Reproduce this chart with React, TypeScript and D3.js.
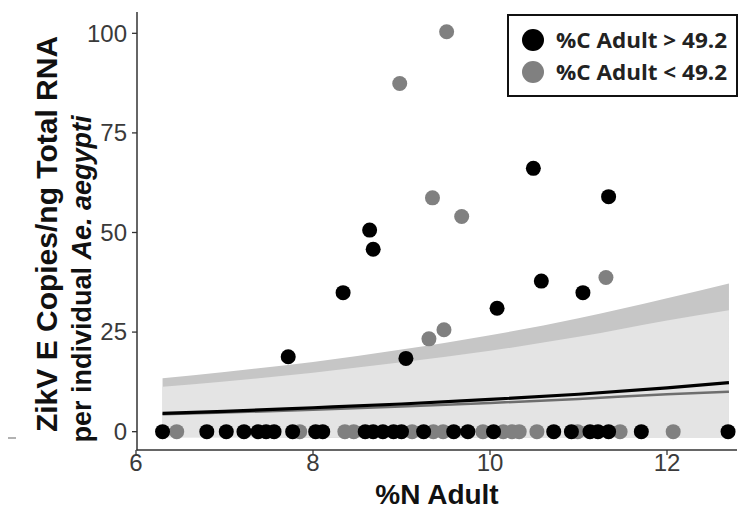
import React from 'react';
import * as d3 from 'd3';

// zero-valued samples along the bottom row
const blackZeroX = [6.3, 6.8, 7.02, 7.22, 7.38, 7.47, 7.56, 7.77, 8.03, 8.11, 8.59, 8.68, 8.79, 8.91, 9.0, 9.25, 9.59, 9.75, 10.04, 10.72, 10.92, 11.13, 11.22, 11.34, 11.71, 12.69];
const grayZeroX = [6.46, 7.85, 8.36, 8.46, 9.12, 9.36, 9.47, 9.92, 10.15, 10.25, 10.33, 10.53, 10.99, 11.47, 12.07];

// positive samples
const blackX = [7.72, 8.34, 8.64, 8.68, 9.05, 10.08, 10.49, 10.58, 11.05, 11.34];
const blackY = [18.8, 34.9, 50.6, 45.8, 18.4, 31.0, 66.1, 37.8, 34.9, 59.0];
const grayX = [8.98, 9.51, 9.35, 9.68, 9.31, 9.48, 11.31];
const grayY = [87.4, 100.4, 58.7, 54.0, 23.3, 25.6, 38.7];

// fitted curves + confidence bands
const fitX = [6.3, 7, 8, 9, 10, 11, 12, 12.7];
const blackFit = [4.6, 5.1, 6.0, 6.95, 8.1, 9.4, 11.0, 12.3];
const blackUpper = [13.4, 15.0, 17.5, 20.6, 24.2, 28.5, 33.5, 37.2];
const blackLower = [-1.4, -1.4, -1.5, -1.5, -1.5, -1.6, -1.6, -1.6];
const grayFit = [4.4, 4.8, 5.5, 6.3, 7.2, 8.2, 9.4, 10.0];
const grayUpper = [11.3, 12.6, 14.8, 17.4, 20.3, 23.8, 27.9, 30.5];
const grayLower = [-1.4, -1.4, -1.5, -1.5, -1.5, -1.6, -1.6, -1.6];

const xTicks = [6, 8, 10, 12];
const yTicks = [0, 25, 50, 75, 100];
const legendLabels = ['%C Adult > 49.2', '%C Adult < 49.2'];

const BLACK = '#000000';
const GRAY = '#808080';
const FONT = '"Liberation Sans", Arial, sans-serif';

export default function App() {
    const x = d3.scaleLinear().domain([6, 12.8]).range([136, 737.8]);
    const y = d3.scaleLinear().domain([-4.6, 105]).range([450, 13.4]);

    const band = (upper: number[], lower: number[]) =>
        d3.area<number>()
            .x((d) => x(d))
            .y0((_, i) => y(lower[i]))
            .y1((_, i) => y(upper[i]))
            .curve(d3.curveMonotoneX)(fitX);

    const fit = (vals: number[]) =>
        d3.line<number>()
            .x((d) => x(d))
            .y((_, i) => y(vals[i]))
            .curve(d3.curveMonotoneX)(fitX);

    const grayPts = [
        ...grayZeroX.map((v) => [v, 0]),
        ...grayX.map((v, i) => [v, grayY[i]]),
    ];
    const blackPts = [
        ...blackZeroX.map((v) => [v, 0]),
        ...blackX.map((v, i) => [v, blackY[i]]),
    ];

    return (
        <div style={{ position: 'absolute', left: 0, top: 0 }}>
            <svg width={745} height={512} style={{ display: 'block', background: '#fff' }}>
                {/* bands */}
                <path d={band(blackUpper, blackLower) || ''} fill="#c6c6c6" />
                <path d={band(grayUpper, grayLower) || ''} fill="#e4e4e4" />

                {/* fits */}
                <path d={fit(grayFit) || ''} fill="none" stroke="#6e6e6e" strokeWidth={2.5} />
                <path d={fit(blackFit) || ''} fill="none" stroke={BLACK} strokeWidth={3.2} />

                {/* points */}
                {grayPts.map((p, i) => (
                    <circle key={`g${i}`} cx={x(p[0])} cy={y(p[1])} r={7.5} fill={GRAY} />
                ))}
                {blackPts.map((p, i) => (
                    <circle key={`b${i}`} cx={x(p[0])} cy={y(p[1])} r={7.5} fill={BLACK} />
                ))}

                {/* axes */}
                <line x1={137} x2={137} y1={12} y2={450.5} stroke="#333" strokeWidth={1.5} />
                <line x1={136.5} x2={737} y1={450} y2={450} stroke="#333" strokeWidth={1.5} />
                {yTicks.map((t) => (
                    <g key={`yt${t}`}>
                        <line x1={132} x2={137} y1={y(t)} y2={y(t)} stroke="#333" strokeWidth={1.3} />
                        <text x={127} y={y(t)} dy="0.35em" textAnchor="end" fontFamily={FONT} fontSize={24} fill="#3a3a3a">
                            {t}
                        </text>
                    </g>
                ))}
                {xTicks.map((t) => (
                    <g key={`xt${t}`}>
                        <line x1={x(t)} x2={x(t)} y1={450} y2={455} stroke="#333" strokeWidth={1.3} />
                        <text x={x(t)} y={471} textAnchor="middle" fontFamily={FONT} fontSize={24} fill="#3a3a3a">
                            {t}
                        </text>
                    </g>
                ))}

                {/* axis titles */}
                <text x={437} y={504} textAnchor="middle" fontFamily={FONT} fontSize={28} fontWeight="bold" fill="#111">
                    %N Adult
                </text>
                <text transform="translate(57,234) rotate(-90)" textAnchor="middle" fontFamily={FONT} fontSize={30} fontWeight="bold" fill="#111">
                    ZikV E Copies/ng Total RNA
                </text>
                <text transform="translate(91,279) rotate(-90)" textAnchor="middle" fontFamily={FONT} fontSize={27} fontWeight="bold" fill="#111">
                    per individual <tspan fontStyle="italic">Ae. aegypti</tspan>
                </text>
                <line x1={8} x2={16} y1={438} y2={438} stroke="#999" strokeWidth={1.5} />

                {/* legend */}
                <rect x={508} y={15} width={229} height={81} fill="#fff" stroke="#111" strokeWidth={2} />
                {legendLabels.map((lab, i) => (
                    <g key={lab}>
                        <circle cx={533} cy={40 + i * 32} r={11} fill={i === 0 ? BLACK : GRAY} />
                        <text x={556} y={40 + i * 32} dy="0.36em" fontFamily='"Open Sans", sans-serif' fontSize={21} fontWeight="bold" fill="#222" textLength={171} lengthAdjust="spacingAndGlyphs">
                            {lab}
                        </text>
                    </g>
                ))}
            </svg>
        </div>
    );
}
